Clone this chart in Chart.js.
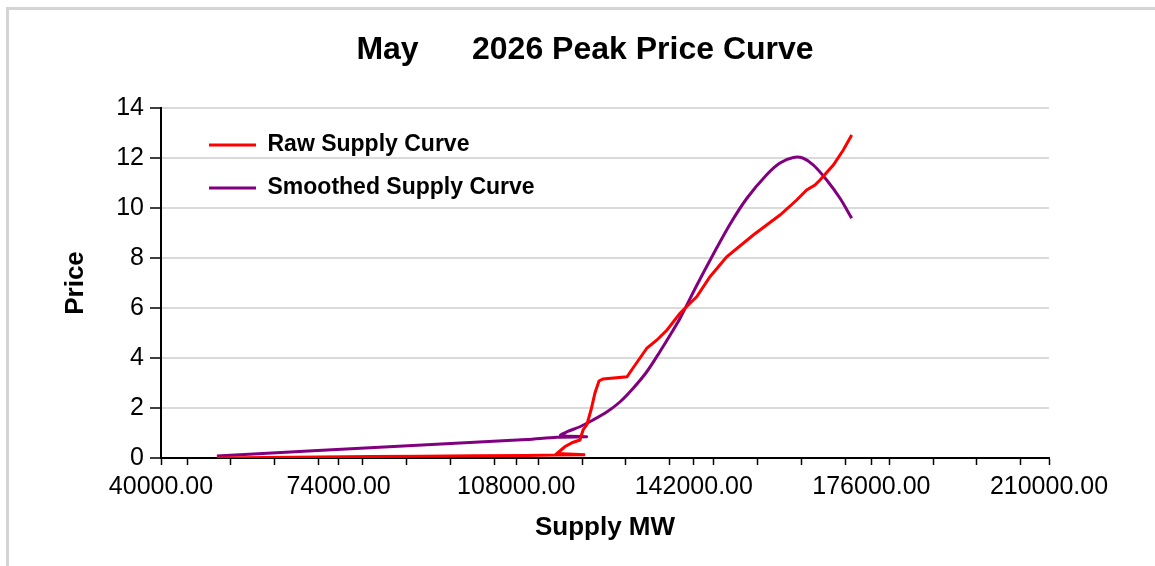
<!DOCTYPE html>
<html>
<head>
<meta charset="utf-8">
<title>May 2026 Peak Price Curve</title>
<script src="https://cdn.jsdelivr.net/npm/chart.js@4.4.1/dist/chart.umd.min.js"></script>
<style>
  html, body { margin: 0; padding: 0; background: #fff; overflow: hidden; }
  #frame { position: absolute; left: 6px; top: 7px; width: 1200px; height: 600px;
           border-left: 3px solid #d4d4d4; border-top: 3px solid #d4d4d4; }
  #chart-box { position: absolute; left: 0; top: 0; width: 1155px; height: 566px; }
</style>
</head>
<body>
<div id="frame"></div>
<div id="chart-box"><canvas id="price-curve"></canvas></div>
<script>
// values (MW, price)
const rawSupplyMW = [50700, 60000, 70000, 80000, 90000, 100000, 110000, 115600, 121200,
  115800, 117300, 118800, 120200, 120800, 121550, 121940, 122320, 123080, 123850, 124620,
  129210, 130360, 133040, 134950, 136870, 139360, 141270, 142550, 145100, 148300, 153390,
  158500, 161700, 163610, 165200, 166160, 168710, 170620, 172230];
const rawPrice = [0.00, 0.02, 0.04, 0.06, 0.07, 0.09, 0.10, 0.12, 0.13,
  0.18, 0.45, 0.62, 0.72, 1.12, 1.35, 1.64, 1.92, 2.60, 3.08, 3.16,
  3.25, 3.60, 4.40, 4.72, 5.12, 5.79, 6.19, 6.45, 7.25, 8.05, 8.92,
  9.72, 10.32, 10.72, 10.92, 11.12, 11.72, 12.32, 12.92];

const smoothSupplyMW = [50700, 70000, 90000, 110000, 115800, 121500, 116500, 117700,
  120200, 122700, 125400, 127900, 130400, 133000, 135500, 138000, 139400, 142550, 145730,
  148930, 152130, 155950, 158500, 161050, 162960, 164880, 167440, 169990, 172230];
const smoothPrice = [0.08, 0.30, 0.52, 0.74, 0.83, 0.85, 0.90, 1.05,
  1.25, 1.52, 1.85, 2.25, 2.79, 3.45, 4.25, 5.10, 5.60, 6.90, 8.15,
  9.35, 10.38, 11.33, 11.80, 12.02, 11.99, 11.72, 11.12, 10.39, 9.59];

const xMajorTicks = [40000, 74000, 108000, 142000, 176000, 210000];
const xMinorTicks = [45000, 53400, 61800, 70200, 78600, 87000, 95400, 103800, 112200,
  120600, 129000, 137400, 145800, 154200, 162600, 171000, 179400, 187800, 196200, 204600];
const yTicks = [0, 2, 4, 6, 8, 10, 12, 14];

const fontFamily = "'Liberation Sans', Arial, sans-serif";

function toPoints(xs, ys) {
    return xs.map((x, i) => ({ x: x, y: ys[i] }));
}

// legend sits inside the plot, title a bit right of canvas centre
const nudgeBoxes = {
    id: 'nudgeBoxes',
    afterLayout(chart) {
        const area = chart.chartArea;
        const legend = chart.legend;
        if (legend) {
            legend.left = area.left + 28;
            legend.right = legend.left + legend.width;
            legend.top = area.top + 5.5;
            legend.bottom = legend.top + legend.height;
        }
        const title = chart.titleBlock;
        if (title) {
            title.left += 7.5;
            title.right += 7.5;
        }
    }
};

const ctx = document.getElementById('price-curve').getContext('2d');

new Chart(ctx, {
    type: 'line',
    data: {
        datasets: [
            {
                label: 'Raw Supply Curve',
                data: toPoints(rawSupplyMW, rawPrice),
                borderColor: '#ff0000',
                backgroundColor: '#ff0000',
                borderWidth: 3,
                pointRadius: 0,
                tension: 0,
                fill: false
            },
            {
                label: 'Smoothed Supply Curve',
                data: toPoints(smoothSupplyMW, smoothPrice),
                borderColor: '#800080',
                backgroundColor: '#800080',
                borderWidth: 3,
                pointRadius: 0,
                tension: 0.3,
                fill: false
            }
        ]
    },
    options: {
        responsive: true,
        maintainAspectRatio: false,
        animation: false,
        layout: { padding: 0 },
        plugins: {
            title: {
                display: true,
                text: 'May      2026 Peak Price Curve',
                color: '#000',
                font: { family: fontFamily, size: 32, weight: 'bold', lineHeight: 1.2 },
                padding: { top: 31, bottom: 38.6 }
            },
            legend: {
                position: 'chartArea',
                align: 'start',
                labels: {
                    color: '#000',
                    font: { family: fontFamily, size: 23, weight: 'bold' },
                    boxWidth: 47,
                    boxHeight: 3,
                    padding: 20,
                    generateLabels: (chart) =>
                        Chart.defaults.plugins.legend.labels.generateLabels(chart)
                            .map(item => ({ ...item, fillStyle: item.strokeStyle, lineWidth: 0 }))
                }
            },
            tooltip: { enabled: false }
        },
        scales: {
            x: {
                type: 'linear',
                position: 'bottom',
                min: 40000,
                max: 210000,
                afterBuildTicks: (scale) => {
                    scale.ticks = xMajorTicks.concat(xMinorTicks)
                        .sort((a, b) => a - b)
                        .map(v => ({ value: v }));
                },
                afterFit: (scale) => {
                    scale.height = 108;
                    scale.paddingRight = 106;
                },
                ticks: {
                    autoSkip: false,
                    maxRotation: 0,
                    padding: 7,
                    color: '#000',
                    font: { family: fontFamily, size: 25 },
                    callback: (value) => xMajorTicks.includes(value) ? value.toFixed(2) : ''
                },
                grid: { drawOnChartArea: false, tickLength: 7, tickColor: '#000', tickWidth: 1.5 },
                border: { color: '#000', width: 2 },
                title: {
                    display: true,
                    text: 'Supply MW',
                    color: '#000',
                    font: { family: fontFamily, size: 26, weight: 'bold', lineHeight: 1.2 },
                    padding: { top: 0, bottom: 23 }
                }
            },
            y: {
                min: 0,
                max: 14,
                afterBuildTicks: (scale) => {
                    scale.ticks = yTicks.map(v => ({ value: v }));
                },
                afterFit: (scale) => {
                    scale.width = 161;
                },
                ticks: {
                    padding: 6,
                    color: '#000',
                    font: { family: fontFamily, size: 25 }
                },
                grid: { color: '#dadada', lineWidth: 2, tickLength: 11, tickColor: '#000', tickWidth: 1.5 },
                border: { color: '#000', width: 2 },
                title: {
                    display: true,
                    text: 'Price',
                    color: '#000',
                    font: { family: fontFamily, size: 26, weight: 'bold', lineHeight: 1.2 },
                    padding: { top: 60, bottom: 0 }
                }
            }
        }
    },
    plugins: [nudgeBoxes]
});
</script>
</body>
</html>
